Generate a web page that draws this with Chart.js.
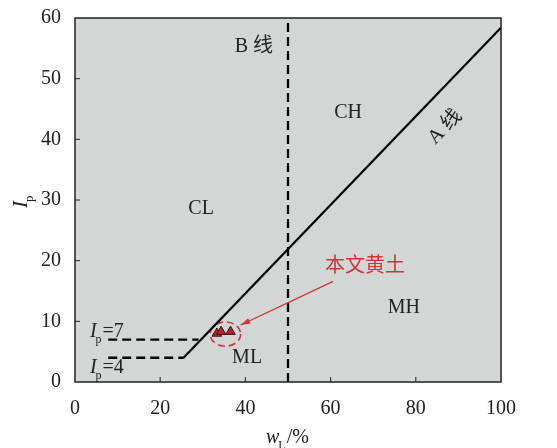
<!DOCTYPE html>
<html>
<head>
<meta charset="utf-8">
<script src="https://cdn.jsdelivr.net/npm/chart.js@4/dist/chart.umd.min.js"></script>
<style>
  body { margin: 0; background: #fff; }
  #wrap { width: 557px; height: 448px; }
</style>
</head>
<body>
<div id="wrap"><canvas id="grafico" width="557" height="448"></canvas></div>
<script>
// dados
const amostraX = [33.3, 34.3, 36.5];
const amostraY = [8.0, 8.3, 8.3];

const linhaAX = [25.48, 100];
const linhaAY = [4, 58.4];
const linhaBX = [50, 50];
const linhaBY = [0, 60];
const ip7X = [7.8, 29.0];
const ip7Y = [7, 7];
const ip4X = [7.8, 25.5];
const ip4Y = [4, 4];

const ticksX = [0, 20, 40, 60, 80, 100];
const ticksY = [0, 10, 20, 30, 40, 50, 60];

// rótulos das zonas (coordenadas em dados)
const zonas = [
    { t: "B 线", x: 42.0, y: 55.3 },
    { t: "CH", x: 64.1, y: 44.3 },
    { t: "CL", x: 29.6, y: 28.5 },
    { t: "MH", x: 77.2, y: 12.2 },
    { t: "ML", x: 40.4, y: 4.0 }
];

const SERIF = "'Liberation Serif', 'DejaVu Serif', serif";
const CJK = "'Liberation Serif', 'Noto Sans CJK SC', serif";
const VERMELHO = "#c8363b";

const pts = (xs, ys) => xs.map((x, i) => ({ x: x, y: ys[i] }));

function textoSub(ctx, x, y, principal, sub, resto, tam) {
    ctx.textAlign = "left";
    ctx.textBaseline = "alphabetic";
    ctx.font = "italic " + tam + "px " + SERIF;
    ctx.fillText(principal, x, y);
    let w = ctx.measureText(principal).width;
    ctx.font = Math.round(tam * 0.62) + "px " + SERIF;
    ctx.fillText(sub, x + w - 1, y + tam * 0.28);
    w += ctx.measureText(sub).width;
    ctx.font = tam + "px " + SERIF;
    ctx.fillText(resto, x + w, y);
}

const desenhos = {
    id: "desenhos",
    beforeDraw(chart) {
        const { ctx, chartArea: a } = chart;
        ctx.save();
        ctx.fillStyle = "#d4d5d5";
        ctx.fillRect(a.left, a.top, a.right - a.left, a.bottom - a.top);
        ctx.restore();
    },
    beforeDatasetsDraw(chart) {
        const { ctx, scales: { x: sx, y: sy } } = chart;
        // elipse tracejada em volta das amostras
        ctx.save();
        ctx.strokeStyle = VERMELHO;
        ctx.lineWidth = 1.6;
        ctx.setLineDash([7, 4]);
        const cx = sx.getPixelForValue(35.3), cy = sy.getPixelForValue(7.9);
        const rx = sx.getPixelForValue(35.3 + 3.6) - cx;
        const ry = cy - sy.getPixelForValue(7.9 + 2.0);
        ctx.beginPath();
        ctx.ellipse(cx, cy, rx, ry, 0, 0, Math.PI * 2);
        ctx.stroke();
        ctx.restore();
    },
    afterDraw(chart) {
        const { ctx, chartArea: a, scales: { x: sx, y: sy } } = chart;
        ctx.save();
        // moldura
        ctx.strokeStyle = "#222";
        ctx.lineWidth = 1.5;
        ctx.strokeRect(a.left, a.top, a.right - a.left, a.bottom - a.top);
        // marcas para dentro
        ctx.lineWidth = 1;
        ctx.beginPath();
        ticksX.slice(1, -1).forEach(v => {
            const px = sx.getPixelForValue(v);
            ctx.moveTo(px, a.bottom);
            ctx.lineTo(px, a.bottom - 5);
        });
        ticksY.slice(1, -1).forEach(v => {
            const py = sy.getPixelForValue(v);
            ctx.moveTo(a.left, py);
            ctx.lineTo(a.left + 5, py);
        });
        ctx.stroke();

        // rótulos das zonas
        ctx.fillStyle = "#222";
        ctx.font = "20px " + CJK;
        ctx.textAlign = "center";
        ctx.textBaseline = "middle";
        zonas.forEach(z => ctx.fillText(z.t, sx.getPixelForValue(z.x), sy.getPixelForValue(z.y)));

        // A 线 girado
        ctx.save();
        ctx.translate(sx.getPixelForValue(86.9), sy.getPixelForValue(42.0));
        ctx.rotate(-46 * Math.PI / 180);
        ctx.fillText("A 线", 0, 0);
        ctx.restore();

        // Ip=7 e Ip=4
        ctx.fillStyle = "#222";
        textoSub(ctx, sx.getPixelForValue(3.5), sy.getPixelForValue(7.4), "I", "p", "=7", 20);
        textoSub(ctx, sx.getPixelForValue(3.5), sy.getPixelForValue(1.5), "I", "p", "=4", 20);

        // 本文黄土 + seta
        ctx.fillStyle = VERMELHO;
        ctx.font = "20px " + CJK;
        ctx.textAlign = "center";
        ctx.textBaseline = "middle";
        ctx.fillText("本文黄土", sx.getPixelForValue(68.1), sy.getPixelForValue(19.0));
        const x1 = sx.getPixelForValue(60.6), y1 = sy.getPixelForValue(16.6);
        const x2 = sx.getPixelForValue(38.9), y2 = sy.getPixelForValue(9.4);
        ctx.strokeStyle = VERMELHO;
        ctx.lineWidth = 1.3;
        ctx.beginPath();
        ctx.moveTo(x1, y1);
        ctx.lineTo(x2, y2);
        ctx.stroke();
        const ang = Math.atan2(y2 - y1, x2 - x1);
        ctx.beginPath();
        ctx.moveTo(x2, y2);
        ctx.lineTo(x2 - 10 * Math.cos(ang - 0.3), y2 - 10 * Math.sin(ang - 0.3));
        ctx.lineTo(x2 - 10 * Math.cos(ang + 0.3), y2 - 10 * Math.sin(ang + 0.3));
        ctx.closePath();
        ctx.fill();

        // títulos dos eixos
        ctx.fillStyle = "#222";
        textoSub(ctx, 266, 443, "w", "L", "/%", 20);
        ctx.save();
        ctx.translate(27, 208);
        ctx.rotate(-Math.PI / 2);
        textoSub(ctx, 0, 0, "I", "p", "", 21);
        ctx.restore();
        ctx.restore();
    }
};

const linha = (xs, ys, tracejado) => ({
    data: pts(xs, ys),
    showLine: true,
    borderColor: "#000",
    borderWidth: 2.3,
    borderDash: tracejado ? [9, 5] : [],
    pointRadius: 0,
    fill: false
});

new Chart(document.getElementById("grafico"), {
    type: "scatter",
    data: {
        datasets: [
            {
                data: pts(amostraX, amostraY),
                pointStyle: "triangle",
                pointRadius: 5.5,
                backgroundColor: "#b3242b",
                borderColor: "#3a1010",
                borderWidth: 1
            },
            linha(linhaAX, linhaAY, false),
            linha(linhaBX, linhaBY, true),
            linha(ip7X, ip7Y, true),
            linha(ip4X, ip4Y, true)
        ]
    },
    options: {
        responsive: false,
        animation: false,
        layout: { padding: { left: 0, right: 56, top: 18, bottom: 0 } },
        plugins: { legend: { display: false }, tooltip: { enabled: false } },
        scales: {
            x: {
                type: "linear", min: 0, max: 100,
                afterFit: s => { s.height = 66; s.paddingLeft = 0; s.paddingRight = 0; },
                afterBuildTicks: s => { s.ticks = ticksX.map(v => ({ value: v })); },
                grid: { display: false, drawTicks: false },
                border: { display: false },
                ticks: { color: "#222", padding: 15, font: { family: SERIF, size: 20 } }
            },
            y: {
                type: "linear", min: 0, max: 60,
                afterFit: s => { s.width = 75; s.paddingTop = 0; s.paddingBottom = 0; },
                afterBuildTicks: s => { s.ticks = ticksY.map(v => ({ value: v })); },
                grid: { display: false, drawTicks: false },
                border: { display: false },
                ticks: { color: "#222", padding: 14, font: { family: SERIF, size: 20 } }
            }
        }
    },
    plugins: [desenhos]
});
</script>
</body>
</html>
